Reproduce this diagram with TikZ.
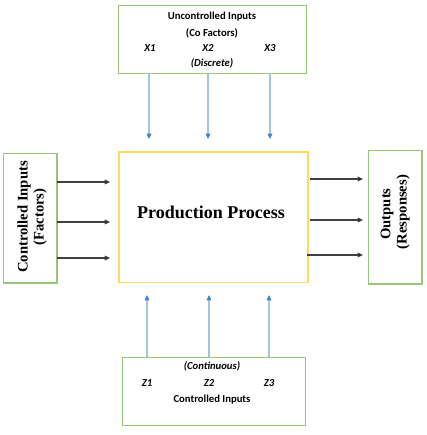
\documentclass[tikz,border=0pt]{standalone}
\usepackage{fontspec}
\setmainfont{Liberation Serif}
\newfontfamily\carfont{Carlito}
\usetikzlibrary{arrows.meta}
\definecolor{boxgreen}{RGB}{150,200,120}
\definecolor{boxyellow}{RGB}{255,215,90}
\definecolor{arrblue}{RGB}{160,195,230}
\definecolor{tipblue}{RGB}{70,130,200}
\begin{document}
\begin{tikzpicture}[x=0.75pt,y=-0.75pt,
  gbox/.style={draw=boxgreen,line width=1.1pt},
  ybox/.style={draw=boxyellow,line width=1.3pt},
  blk/.style={draw=black!75,line width=0.8pt,-{Triangle[length=4pt,width=3.5pt,fill=black]}},
  blu/.style={draw=arrblue,line width=0.9pt,-{Triangle[length=4pt,width=3.5pt,fill=tipblue,color=tipblue]}},
  lab/.style={font=\carfont\bfseries\fontsize{8}{9}\selectfont,inner sep=0pt},
  ilab/.style={font=\carfont\bfseries\itshape\fontsize{8}{9}\selectfont,inner sep=0pt},
  slab/.style={font=\bfseries\fontsize{11}{13}\selectfont,inner sep=0pt,rotate=90}]
\useasboundingbox (0,0) rectangle (427,435);
% boxes
\node[gbox,minimum width=141pt,minimum height=51pt,anchor=north west] (top) at (118,5) {};
\node[ybox,minimum width=142pt,minimum height=98pt,anchor=north west] (proc) at (118,151) {};
\node[gbox,minimum width=137pt,minimum height=51pt,anchor=north west] (bot) at (122,357) {};
\node[gbox,minimum width=40pt,minimum height=97pt,anchor=north west] (left) at (3,153) {};
\node[gbox,minimum width=40pt,minimum height=100pt,anchor=north west] (right) at (368,150) {};
% texts
\node[lab] (t1) at (212,17) {Uncontrolled Inputs};
\node[lab] (t2) at (212,33) {(Co Factors)};
\node[ilab] (x1) at (150,48) {X1};
\node[ilab] (x2) at (208,48) {X2};
\node[ilab] (x3) at (270,48) {X3};
\node[ilab] (t3) at (212,63) {(Discrete)};
\node[font=\bfseries\fontsize{13.5}{15}\selectfont,inner sep=0pt] (pp) at (211,212) {Production Process};
\node[ilab] (b1) at (212,366) {(Continuous)};
\node[ilab] (z1) at (147,383) {Z1};
\node[ilab] (z2) at (209,383) {Z2};
\node[ilab] (z3) at (269,383) {Z3};
\node[lab] (b2) at (212,400) {Controlled Inputs};
\node[slab] (l1) at (24,217) {Controlled Inputs};
\node[slab] (l2) at (40,217) {(Factors)};
\node[slab] (r1) at (387,214) {Outputs};
\node[slab] (r2) at (403,212) {(Responses)};
% arrow anchor coordinates
\foreach \i/\x in {1/149,2/208,3/270}{
  \coordinate (ta\i) at (\x,73);
  \coordinate (tb\i) at (\x,139);
  \draw[blu] (ta\i) -- (tb\i);
}
\foreach \i/\x in {1/147,2/209,3/269}{
  \coordinate (ba\i) at (\x,357);
  \coordinate (bb\i) at (\x,295);
  \draw[blu] (ba\i) -- (bb\i);
}
\foreach \i/\y in {1/182,2/222,3/258}{
  \coordinate (la\i) at (57,\y);
  \coordinate (lb\i) at (110,\y);
  \draw[blk] (la\i) -- (lb\i);
}
\foreach \i/\y/\s in {1/179/310,2/220/310,3/255/307}{
  \coordinate (ra\i) at (\s,\y);
  \coordinate (rb\i) at (363,\y);
  \draw[blk] (ra\i) -- (rb\i);
}
\end{tikzpicture}
\end{document}
